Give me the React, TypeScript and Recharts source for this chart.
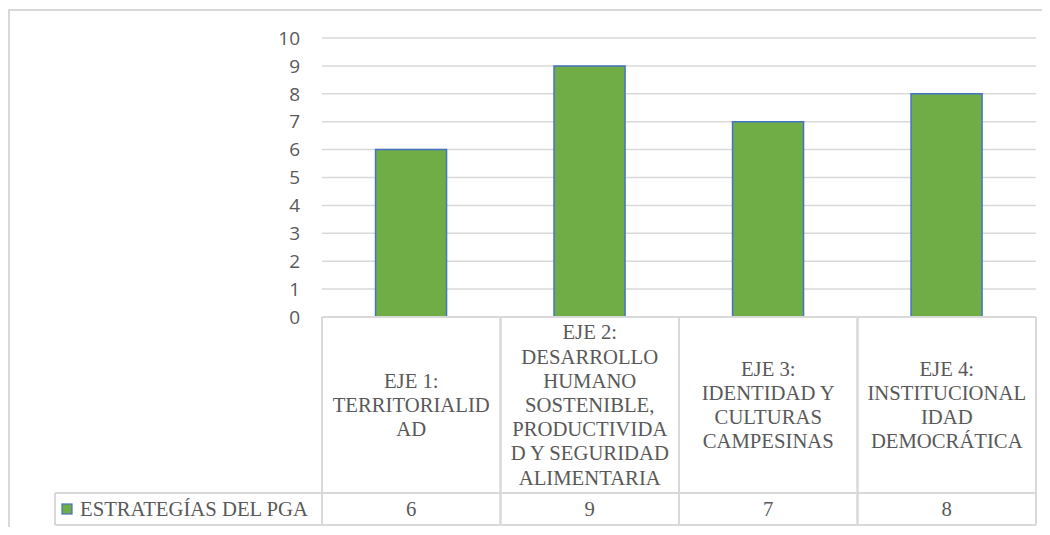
import { Bar, BarChart, CartesianGrid, XAxis, YAxis } from 'recharts';

const categories = [
    "EJE 1:\nTERRITORIALID\nAD",
    "EJE 2:\nDESARROLLO\nHUMANO\nSOSTENIBLE,\nPRODUCTIVIDA\nD Y SEGURIDAD\nALIMENTARIA",
    "EJE 3:\nIDENTIDAD Y\nCULTURAS\nCAMPESINAS",
    "EJE 4:\nINSTITUCIONAL\nIDAD\nDEMOCRÁTICA",
];
const values = [6, 9, 7, 8];
const seriesName = "ESTRATEGÍAS DEL PGA";
const yTicks = [0, 1, 2, 3, 4, 5, 6, 7, 8, 9, 10];

const GREEN = "#70AD47";
const BLUE = "#4472C4";
const LINE = "#d9d9d9";
const TEXT = "#595959";
const serif = { fontFamily: "'Liberation Serif', 'Times New Roman', serif", fontSize: 20.7 };

const HEADER_H = 176;
const ROW_H = 32;
const LINE_H = 24.2;
const LEGEND_LEFT = 47;

const data = categories.map((name, i) => ({ name, value: values[i] }));

const TableTick = (props: any) => {
    const { x, y, payload, index } = props;
    const band = (props.width ?? 714) / categories.length;
    const left = x - band / 2;
    const right = x + band / 2;
    const lines = String(payload.value).split("\n");
    const midY = y + HEADER_H / 2;
    const rowTop = y + HEADER_H;
    const rowBottom = rowTop + ROW_H;
    return <g>
        <line x1={left} x2={right} y1={y} y2={y} stroke={LINE} strokeWidth={2} />
        <line x1={left} x2={right} y1={rowTop} y2={rowTop} stroke={LINE} strokeWidth={2} />
        <line x1={left} x2={right} y1={rowBottom} y2={rowBottom} stroke={LINE} strokeWidth={2} />
        <line x1={left} x2={left} y1={y} y2={rowBottom} stroke={LINE} strokeWidth={2} />
        <line x1={right} x2={right} y1={y} y2={rowBottom} stroke={LINE} strokeWidth={2} />
        <text textAnchor="middle" fill={TEXT} style={serif}>
            {lines.map((l, i) => (
                <tspan key={i} x={x} y={midY + (i - (lines.length - 1) / 2) * LINE_H} dominantBaseline="central">{l}</tspan>
            ))}
        </text>
        <text x={x} y={rowTop + ROW_H / 2} textAnchor="middle" dominantBaseline="central"
            fill={TEXT} style={serif}>{values[index]}</text>
        {index === 0 && <g>
            <line x1={LEGEND_LEFT} x2={left} y1={rowTop} y2={rowTop} stroke={LINE} strokeWidth={2} />
            <line x1={LEGEND_LEFT} x2={left} y1={rowBottom} y2={rowBottom} stroke={LINE} strokeWidth={2} />
            <line x1={LEGEND_LEFT} x2={LEGEND_LEFT} y1={rowTop} y2={rowBottom} stroke={LINE} strokeWidth={2} />
            <rect x={LEGEND_LEFT + 7} y={rowTop + ROW_H / 2 - 5} width={10} height={10} fill={GREEN} stroke={BLUE} strokeWidth={1.2} />
            <text x={LEGEND_LEFT + 25} y={rowTop + ROW_H / 2} dominantBaseline="central"
                fill={TEXT} style={serif}>{seriesName}</text>
        </g>}
    </g>
}

export default function App() {
    return <div style={{ position: "relative", width: 1034, height: 519, overflow: "hidden" }}>
        <div style={{ position: "absolute", left: 0, top: 1, width: 2, height: 518, background: LINE }} />
        <div style={{ position: "absolute", left: 0, top: 1, width: 1034, height: 2, background: LINE }} />
        <div style={{ position: "absolute", left: 0, top: 0 }}>
            <BarChart width={1034} height={519} data={data} barCategoryGap="30%"
                margin={{ top: 30, right: 6, left: 0, bottom: 2 }}>
                <CartesianGrid vertical={false} stroke={LINE} strokeWidth={1.5} />
                <XAxis dataKey="name" height={208} interval={0} tick={TableTick}
                    axisLine={false} tickLine={false} tickSize={0} tickMargin={0} />
                <YAxis domain={[0, 10]} ticks={yTicks} width={314} axisLine={false} tickLine={false}
                    tickMargin={16} tick={{ fill: TEXT, fontSize: 19, fontFamily: "'Open Sans', sans-serif" }} />
                <Bar dataKey="value" name={seriesName} fill={GREEN} stroke={BLUE} strokeWidth={1.5}
                    isAnimationActive={false} />
            </BarChart>
        </div>
    </div>
}
